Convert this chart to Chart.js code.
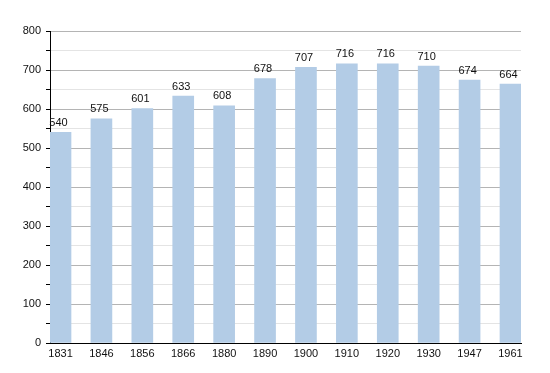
<!DOCTYPE html>
<html>
<head>
<meta charset="utf-8">
<script src="https://cdn.jsdelivr.net/npm/chart.js@4"></script>
<style>
  html, body { margin: 0; padding: 0; background: #fff; }
  #wrap { width: 550px; height: 373px; }
</style>
</head>
<body>
<div id="wrap"><canvas id="chart" width="550" height="373"></canvas></div>
<script>
// --- data ---
const years = ["1831", "1846", "1856", "1866", "1880", "1890", "1900", "1910", "1920", "1930", "1947", "1961"];
const population = [540, 575, 601, 633, 608, 678, 707, 716, 716, 710, 674, 664];
const yTicks = [0, 100, 200, 300, 400, 500, 600, 700, 800];

const FONT = "'Liberation Sans', Arial, sans-serif";

// value labels above each bar
const valueLabels = {
  id: "valueLabels",
  afterDatasetsDraw(chart) {
    const ctx = chart.ctx;
    const meta = chart.getDatasetMeta(0);
    ctx.save();
    ctx.font = "11px " + FONT;
    ctx.fillStyle = "#111";
    ctx.textAlign = "center";
    ctx.textBaseline = "bottom";
    meta.data.forEach((bar, i) => {
      ctx.fillText(String(population[i]), bar.x - 2, bar.y - 4);
    });
    ctx.restore();
  }
};

new Chart(document.getElementById("chart"), {
  type: "bar",
  data: {
    datasets: [{
      data: population.map((v, i) => ({ x: i, y: v })),
      backgroundColor: "#b3cce6",
      borderWidth: 0,
      barThickness: 21
    }]
  },
  options: {
    responsive: false,
    animation: false,
    layout: { padding: { left: 0, top: 31, right: 29, bottom: 0 } },
    plugins: { legend: { display: false }, tooltip: { enabled: false } },
    scales: {
      x: {
        type: "linear",
        offset: false,
        min: -0.257,
        max: 11.257,
        afterBuildTicks: (scale) => { scale.ticks = years.map((_, i) => ({ value: i })); },
        afterFit: (scale) => { scale.height = 30; },
        grid: { display: false, drawTicks: false },
        border: { color: "#000", width: 1 },
        ticks: {
          color: "#111",
          font: { family: FONT, size: 11 },
          padding: 4,
          maxRotation: 0,
          autoSkip: false,
          callback: (v) => years[v]
        }
      },
      y: {
        min: 0,
        max: yTicks[yTicks.length - 1],
        afterFit: (scale) => { scale.width = 50; },
        border: { color: "#000", width: 1 },
        grid: {
          color: (c) => (c.tick && c.tick.value % 100 === 0) ? "#b4b4b4" : "#e4e4e4",
          tickColor: "#000",
          tickLength: 4
        },
        ticks: {
          stepSize: 50,
          color: "#111",
          font: { family: FONT, size: 11 },
          padding: 5,
          callback: (v) => yTicks.includes(v) ? v : ""
        }
      }
    }
  },
  plugins: [valueLabels]
});
</script>
</body>
</html>
